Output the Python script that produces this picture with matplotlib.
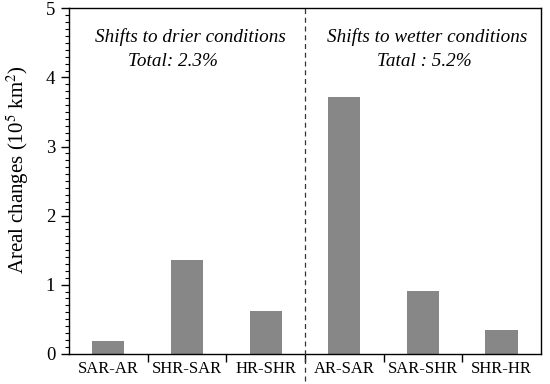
import matplotlib
matplotlib.use('Agg')
import matplotlib.pyplot as plt
from matplotlib.ticker import MultipleLocator

# Areal changes between aridity classes (10^5 km^2)
categories = ['SAR-AR', 'SHR-SAR', 'HR-SHR', 'AR-SAR', 'SAR-SHR', 'SHR-HR']
changes = [0.18, 1.35, 0.62, 3.72, 0.91, 0.34]

plt.rcParams['font.family'] = ['Liberation Serif', 'DejaVu Serif']
plt.rcParams['mathtext.fontset'] = 'stix'

fig = plt.figure(figsize=(5.5, 3.84), dpi=100)
ax = fig.add_axes([0.1255, 0.079, 0.858, 0.899])

x = list(range(len(categories)))
ax.bar(x, changes, width=0.41, color='#878787', zorder=2)

ax.set_xlim(-0.5, len(categories) - 0.5)
ax.set_ylim(0, 5)

# ticks between the categories, labels centred under bars
ax.set_xticks([i + 0.5 for i in x[:-1]])
ax.set_xticklabels([])
ax.set_xticks(x, minor=True)
ax.set_xticklabels(categories, minor=True, fontsize=12)
ax.tick_params(axis='x', which='major', direction='out', length=6, width=1)
ax.tick_params(axis='x', which='minor', length=0, pad=5)

ax.yaxis.set_major_locator(MultipleLocator(1))
ax.yaxis.set_minor_locator(MultipleLocator(0.1))
ax.tick_params(axis='y', which='major', direction='out', length=6, width=1,
               labelsize=13.5, pad=4)
ax.tick_params(axis='y', which='minor', direction='out', length=3, width=0.8)

for s in ax.spines.values():
    s.set_linewidth(1)

ax.set_ylabel('Areal changes (10$^5$ km$^2$)', fontsize=15)
ax.yaxis.set_label_coords(-0.08, 0.532)

# separator between drier and wetter shifts
ax.plot([2.5, 2.5], [-0.4, 5], ls=(0, (4, 3)), color='#333333', lw=0.9,
        clip_on=False, zorder=3)

ax.text(1.05, 4.59, 'Shifts to drier conditions', style='italic', fontsize=13.8,
        ha='center', va='center')
ax.text(0.82, 4.23, 'Total: 2.3%', style='italic', fontsize=13.8,
        ha='center', va='center')
ax.text(4.05, 4.59, 'Shifts to wetter conditions', style='italic', fontsize=13.8,
        ha='center', va='center')
ax.text(4.02, 4.23, 'Tatal : 5.2%', style='italic', fontsize=13.8,
        ha='center', va='center')

fig.savefig('out.png', dpi=100)
